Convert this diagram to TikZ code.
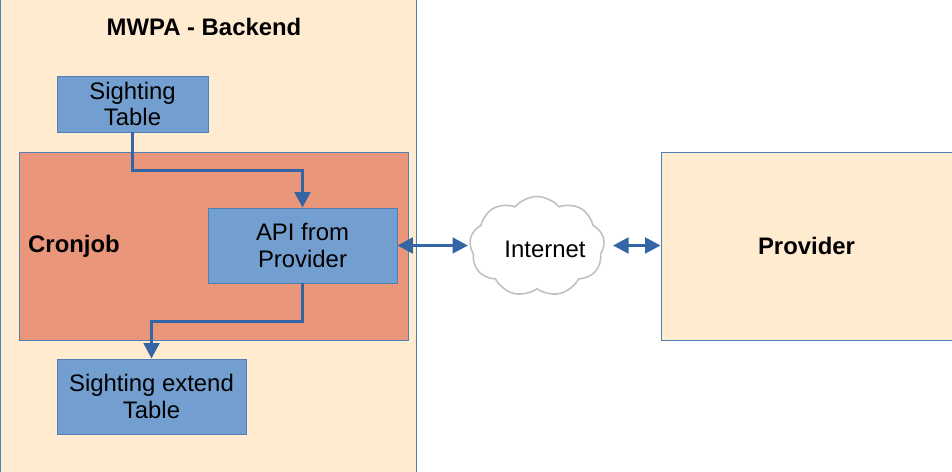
\documentclass[tikz,border=0pt]{standalone}
\usepackage{xcolor}
\usepackage{fontspec}
\setmainfont{Liberation Sans}
\usepackage{tikz}
\usetikzlibrary{arrows.meta, shapes.symbols}

\definecolor{paleback}{HTML}{FFEBCF}
\definecolor{cronred}{HTML}{EA967A}
\definecolor{tableblue}{HTML}{729FCF}
\definecolor{lineblue}{HTML}{3465A4}
\definecolor{edgeblue}{HTML}{5080B8}
\definecolor{cloudgray}{HTML}{C0C0C0}

\begin{document}
\begin{tikzpicture}[
    x=0.02cm, y=-0.02cm,
    bignode/.style={draw=edgeblue, line width=0.5pt, fill=paleback, inner sep=0pt},
    cronnode/.style={draw=edgeblue, line width=0.5pt, fill=cronred, inner sep=0pt},
    tnode/.style={draw=edgeblue, line width=0.5pt, fill=tableblue, align=center, inner sep=0pt, font=\fontsize{13.6}{15.3}\selectfont},
    lbl/.style={inner sep=0pt, font=\fontsize{13.6}{15.3}\selectfont},
    boldlbl/.style={inner sep=0pt, font=\fontsize{13.6}{15.3}\selectfont\bfseries},
    conn/.style={draw=lineblue, line width=1.9pt, -{Triangle[length=0.31cm, width=0.31cm]}},
    dconn/.style={draw=lineblue, line width=1.9pt, {Triangle[length=0.31cm, width=0.31cm]}-{Triangle[length=0.31cm, width=0.31cm]}}
]
\useasboundingbox (0,0) rectangle (952,472);

\node[bignode, minimum width=8.32cm, minimum height=9.5cm] (backend) at (208,236) {};
\node[bignode, minimum width=5.82cm, minimum height=3.76cm] (provider) at (806.5,246) {};
\node[cronnode, minimum width=7.78cm, minimum height=3.76cm] (cron) at (213.5,246) {};

\node[tnode, minimum width=3.02cm, minimum height=1.12cm] (sight) at (132.5,104) {Sighting\\Table};
\node[tnode, minimum width=3.78cm, minimum height=1.5cm] (api) at (302.5,245.5) {API from\\Provider};
\node[tnode, minimum width=3.78cm, minimum height=1.5cm] (extend) at (151.5,396.5) {Sighting extend\\Table};

\node[draw=cloudgray, line width=0.9pt, fill=white, cloud, cloud puffs=9, cloud puff arc=100, aspect=1.35, minimum width=2.7cm, minimum height=2cm, inner sep=0pt] (inet) at (537,246.5) {};

\node[boldlbl] (title) at (204,27) {MWPA - Backend};
\node[boldlbl] (cronlbl) at (74,246) {Cronjob};
\node[boldlbl] (provlbl) at (806.5,246) {Provider};
\node[lbl] (inetlbl) at (545,249) {Internet};

\coordinate (inetin) at (468,245.5);
\coordinate (inetout) at (613,245.5);

\draw[conn] (sight.south) -- ++(0,38) -| (api.north);
\draw[conn] (api.south) -- ++(0,38) -| (extend.north);
\draw[dconn] (api.east) -- (inetin);
\draw[dconn] (inetout) -- (provider.west |- inetout);
\end{tikzpicture}
\end{document}
